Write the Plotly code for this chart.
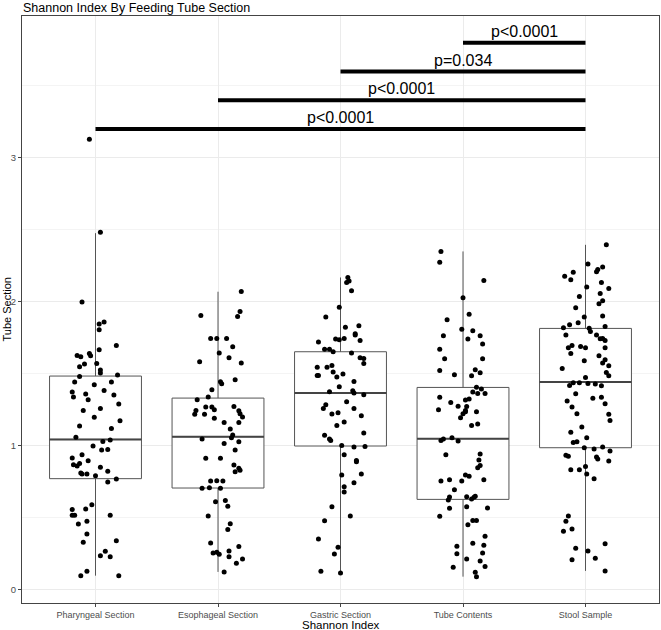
import plotly.graph_objects as go

# ---------------- data ----------------
categories = ["Pharyngeal Section", "Esophageal Section", "Gastric Section", "Tube Contents", "Stool Sample"]

# box statistics
q1_vals = [0.771, 0.706, 0.998, 0.627, 0.986]
median_vals = [1.044, 1.062, 1.366, 1.049, 1.442]
q3_vals = [1.484, 1.331, 1.653, 1.405, 1.815]
lower_whisker = [0.097, 0.123, 0.116, 0.090, 0.130]
upper_whisker = [2.477, 2.070, 2.169, 2.350, 2.396]

# jittered observations (values and horizontal jitter offsets)
pharyngeal_y = [3.13, 2.484, 1.998, 1.859, 1.845, 1.806, 1.697, 1.667, 1.627, 1.618, 1.641, 1.625, 1.567, 1.549,
                1.572, 1.526, 1.505, 1.481, 1.491, 1.442, 1.442, 1.424, 1.373, 1.338, 1.359, 1.384, 1.352, 1.319,
                1.290, 1.245, 1.259, 1.197, 1.174, 1.137, 1.120, 1.058, 1.030, 1.039, 0.998, 0.938, 0.970, 0.974,
                0.914, 0.868, 0.859, 0.877, 0.896, 0.810, 0.803, 0.803, 0.850, 0.822, 0.792, 0.769, 0.748, 0.590,
                0.556, 0.560, 0.516, 0.516, 0.516, 0.475, 0.456, 0.387, 0.329, 0.340, 0.266, 0.236, 0.229, 0.127,
                0.097, 0.097]
pharyngeal_dx = [-0.05, 0.04, -0.11, 0.07, 0.03, 0.03, 0.17, 0.03, -0.15, -0.12, -0.05, -0.04, -0.09, -0.13,
                 0.01, 0.04, 0.04, -0.13, 0.18, -0.17, 0.13, -0.01, -0.19, -0.18, -0.08, 0.07, 0.15, -0.06,
                 0.19, -0.10, 0.04, -0.01, 0.20, -0.13, 0.13, -0.16, 0.06, 0.12, -0.02, -0.11, 0.05, 0.10,
                 -0.19, -0.18, -0.15, -0.13, -0.06, -0.12, -0.11, -0.07, 0.04, 0.10, 0.0, 0.17, 0.10, -0.03,
                 -0.19, -0.08, -0.19, -0.17, 0.12, -0.07, -0.14, -0.07, -0.10, 0.17, 0.08, 0.04, 0.12, -0.07,
                 -0.12, 0.19]

esophageal_y = [2.072, 1.933, 1.905, 1.898, 1.745, 1.745, 1.745, 1.688, 1.644, 1.611, 1.583, 1.574, 1.458, 1.444,
                1.431, 1.389, 1.338, 1.319, 1.269, 1.269, 1.245, 1.250, 1.218, 1.218, 1.273, 1.243, 1.222, 1.199,
                1.190, 1.162, 1.162, 1.116, 1.074, 1.056, 1.046, 1.028, 1.016, 0.970, 0.912, 0.912, 0.866, 0.843,
                0.819, 0.829, 0.755, 0.757, 0.755, 0.704, 0.708, 0.704, 0.611, 0.620, 0.579, 0.512, 0.458, 0.417,
                0.324, 0.299, 0.255, 0.259, 0.245, 0.269, 0.229, 0.213, 0.183, 0.123]
esophageal_dx = [0.19, 0.18, -0.14, 0.16, -0.06, -0.01, 0.07, 0.12, 0.01, 0.09, -0.15, 0.19, 0.14, 0.02,
                 0.03, -0.05, -0.08, -0.17, -0.10, -0.05, -0.18, -0.03, -0.19, -0.11, 0.13, 0.17, 0.18, 0.20,
                 -0.03, 0.05, 0.17, 0.10, 0.12, 0.11, -0.13, 0.17, 0.05, 0.14, -0.10, 0.02, 0.13, 0.17,
                 0.14, 0.18, -0.06, -0.01, 0.04, -0.13, -0.07, 0.02, -0.02, 0.06, 0.08, -0.08, 0.10, 0.08,
                 -0.06, 0.17, -0.04, -0.01, 0.01, 0.09, 0.09, 0.20, 0.15, 0.05]

gastric_y = [2.169, 2.134, 2.144, 2.076, 1.963, 1.894, 1.824, 1.833, 1.778, 1.769, 1.720, 1.741, 1.736, 1.745,
             1.731, 1.671, 1.671, 1.653, 1.644, 1.611, 1.606, 1.572, 1.546, 1.546, 1.558, 1.488, 1.488, 1.512,
             1.498, 1.477, 1.447, 1.410, 1.375, 1.382, 1.366, 1.354, 1.306, 1.285, 1.259, 1.259, 1.220, 1.229,
             1.208, 1.164, 1.141, 1.088, 1.072, 1.046, 1.037, 1.002, 0.991, 0.995, 0.938, 0.898, 0.889, 0.796,
             0.803, 0.715, 0.678, 0.743, 0.576, 0.512, 0.479, 0.352, 0.294, 0.248, 0.127, 0.116]
gastric_dx = [0.06, 0.05, 0.07, 0.09, -0.01, -0.12, 0.04, 0.15, 0.12, 0.12, -0.18, -0.04, -0.01, 0.03,
              0.16, -0.13, -0.09, -0.06, 0.09, 0.16, 0.19, 0.19, -0.19, -0.11, -0.07, -0.19, -0.18, -0.06,
              0.02, -0.03, 0.11, -0.01, -0.09, 0.10, 0.11, 0.19, 0.05, -0.12, -0.14, 0.11, -0.07, -0.02,
              0.17, 0.03, -0.03, 0.19, -0.13, -0.09, -0.08, 0.01, 0.11, 0.20, 0.03, 0.13, 0.13, 0.01,
              0.17, 0.03, 0.03, 0.11, -0.07, 0.08, -0.13, -0.18, -0.02, -0.05, -0.16, 0.0]

tube_y = [2.350, 2.275, 2.148, 2.028, 1.914, 1.875, 1.810, 1.799, 1.764, 1.741, 1.764, 1.706, 1.671, 1.604,
          1.604, 1.523, 1.528, 1.507, 1.493, 1.486, 1.407, 1.394, 1.373, 1.363, 1.363, 1.336, 1.317, 1.324,
          1.301, 1.275, 1.273, 1.250, 1.245, 1.236, 1.236, 1.222, 1.194, 1.141, 1.150, 1.037, 1.046, 1.056,
          1.032, 0.938, 0.942, 0.901, 0.863, 0.847, 0.796, 0.787, 0.755, 0.764, 0.755, 0.764, 0.694, 0.644,
          0.623, 0.646, 0.630, 0.641, 0.648, 0.565, 0.576, 0.567, 0.509, 0.481, 0.481, 0.451, 0.370, 0.322,
          0.308, 0.301, 0.250, 0.255, 0.213, 0.199, 0.155, 0.160, 0.120, 0.090]
tube_dx = [-0.18, -0.19, 0.17, 0.0, 0.05, -0.13, -0.01, 0.08, -0.16, 0.04, 0.14, 0.16, -0.19, -0.15,
           0.16, -0.19, 0.10, 0.14, -0.07, 0.07, 0.11, 0.15, 0.08, 0.12, 0.18, -0.19, 0.02, 0.05,
           -0.10, -0.04, 0.03, -0.20, 0.02, 0.02, 0.11, 0.0, -0.02, 0.07, 0.12, -0.18, -0.16, -0.09,
           -0.04, -0.14, 0.14, 0.13, 0.14, 0.12, 0.02, 0.05, -0.18, -0.11, -0.01, 0.17, -0.07, -0.11,
           -0.12, 0.03, 0.07, 0.09, 0.10, -0.11, 0.03, 0.20, -0.19, 0.08, 0.11, 0.04, 0.18, 0.08,
           0.17, -0.05, -0.05, 0.16, 0.03, 0.14, -0.08, 0.18, 0.10, 0.11]

stool_y = [2.396, 2.262, 2.241, 2.208, 2.225, 2.206, 2.178, 2.153, 2.134, 2.102, 2.093, 2.058, 2.037, 2.007,
           1.986, 1.958, 1.901, 1.894, 1.854, 1.840, 1.819, 1.817, 1.794, 1.829, 1.769, 1.769, 1.743, 1.745,
           1.731, 1.697, 1.681, 1.690, 1.681, 1.681, 1.641, 1.625, 1.597, 1.590, 1.574, 1.556, 1.537, 1.509,
           1.486, 1.474, 1.438, 1.438, 1.433, 1.428, 1.417, 1.419, 1.361, 1.329, 1.336, 1.310, 1.292, 1.269,
           1.222, 1.218, 1.176, 1.130, 1.093, 1.056, 1.023, 1.028, 0.986, 0.977, 0.991, 0.963, 0.933, 0.926,
           0.921, 0.907, 0.894, 0.856, 0.833, 0.833, 0.803, 0.771, 0.512, 0.475, 0.405, 0.421, 0.319, 0.287,
           0.269, 0.218, 0.208, 0.130]
stool_dx = [0.17, 0.02, 0.14, 0.09, 0.10, -0.10, -0.17, -0.12, 0.13, 0.01, 0.19, 0.12, -0.05, 0.14,
            0.11, -0.08, 0.14, -0.01, -0.06, -0.13, -0.18, 0.03, 0.04, 0.16, -0.16, 0.09, 0.12, 0.14,
            0.16, -0.11, -0.14, -0.04, 0.0, 0.16, -0.12, 0.11, 0.16, -0.01, 0.14, 0.19, -0.19, 0.17,
            0.19, 0.0, -0.10, -0.05, 0.02, 0.08, 0.13, -0.13, -0.08, 0.06, 0.13, -0.15, 0.16, -0.11,
            -0.07, 0.19, 0.20, -0.03, -0.12, 0.01, -0.10, -0.07, -0.01, 0.07, 0.14, 0.20, -0.16, -0.14,
            0.09, 0.10, 0.19, 0.0, -0.12, -0.05, 0.01, 0.07, -0.14, -0.16, -0.18, -0.11, 0.16, -0.08,
            0.02, 0.08, -0.11, 0.16]

# pairwise comparisons (start group index, end group index, bar height, label)
comp_start = [1, 2, 3, 4]
comp_end = [5, 5, 5, 5]
comp_level = [3.2, 3.4, 3.6, 3.8]
comp_label = ["p<0.0001", "p<0.0001", "p=0.034", "p<0.0001"]

# ---------------- figure ----------------
group_y = [pharyngeal_y, esophageal_y, gastric_y, tube_y, stool_y]
group_dx = [pharyngeal_dx, esophageal_dx, gastric_dx, tube_dx, stool_dx]
positions = list(range(1, len(categories) + 1))
box_width = 0.75
line_col = "#555555"
font_fam = "Liberation Sans, Arial, sans-serif"

fig = go.Figure()

for i, pos in enumerate(positions):
    fig.add_trace(go.Box(
        x=[pos], q1=[q1_vals[i]], median=[median_vals[i]], q3=[q3_vals[i]],
        lowerfence=[lower_whisker[i]], upperfence=[upper_whisker[i]],
        width=box_width, whiskerwidth=0, boxpoints=False,
        fillcolor="white", line=dict(color=line_col, width=1),
        showlegend=False, hoverinfo="skip"))
    # thicker median line (ggplot style)
    fig.add_trace(go.Scatter(
        x=[pos - box_width / 2, pos + box_width / 2], y=[median_vals[i], median_vals[i]],
        mode="lines", line=dict(color="#444444", width=2), showlegend=False, hoverinfo="skip"))

for i, pos in enumerate(positions):
    fig.add_trace(go.Scatter(
        x=[pos + d for d in group_dx[i]], y=group_y[i], mode="markers",
        marker=dict(color="black", size=5), showlegend=False, hoverinfo="skip"))

annotations = []
for s, e, lvl, lab in zip(comp_start, comp_end, comp_level, comp_label):
    fig.add_trace(go.Scatter(x=[s, e], y=[lvl, lvl], mode="lines",
                             line=dict(color="black", width=4), showlegend=False, hoverinfo="skip"))
    annotations.append(dict(x=(s + e) / 2, y=lvl, xref="x", yref="y", text=lab, showarrow=False,
                            yanchor="bottom", yshift=1,
                            font=dict(family=font_fam, size=16, color="black")))

annotations += [
    dict(text="Shannon Index By Feeding Tube Section", xref="paper", yref="paper", x=0, y=1,
         xanchor="left", yanchor="bottom", yshift=0, borderpad=0, showarrow=False,
         font=dict(family=font_fam, size=12.5, color="black")),
    dict(text="Shannon Index", xref="paper", yref="paper", x=0.5, y=0, xanchor="center",
         yanchor="middle", yshift=-22, showarrow=False, font=dict(family=font_fam, size=11.5, color="black")),
    dict(text="Tube Section", xref="paper", yref="paper", x=0, y=0.5, xanchor="center",
         yanchor="middle", xshift=-16, textangle=-90, showarrow=False,
         font=dict(family=font_fam, size=11, color="black")),
]

fig.update_layout(
    width=661, height=630,
    margin=dict(l=22, r=2, t=16, b=27),
    paper_bgcolor="white", plot_bgcolor="white",
    font=dict(family=font_fam),
    annotations=annotations,
    xaxis=dict(range=[0.4, 5.6], tickvals=positions, ticktext=categories, showgrid=True,
               gridcolor="#ebebeb", gridwidth=1, zeroline=False, showline=True, mirror=True,
               linecolor="#444444", linewidth=1, ticks="outside", ticklen=3, tickcolor="#444444",
               tickfont=dict(size=9, color="#4d4d4d"), automargin=False),
    yaxis=dict(range=[-0.093, 3.986], tickvals=[0, 1, 2, 3], showgrid=True, gridcolor="#ebebeb",
               gridwidth=1, zeroline=False, showline=True, mirror=True, linecolor="#444444",
               linewidth=1, ticks="outside", ticklen=3, tickcolor="#444444",
               tickfont=dict(size=9.5, color="#4d4d4d"), automargin=False,
               minor=dict(dtick=0.5, tick0=0, showgrid=True, gridcolor="#f4f4f4", gridwidth=1)),
)

fig.write_html("out.html", config={"displayModeBar": False},
               post_script="document.body.style.margin='0';document.body.style.overflow='hidden';")
